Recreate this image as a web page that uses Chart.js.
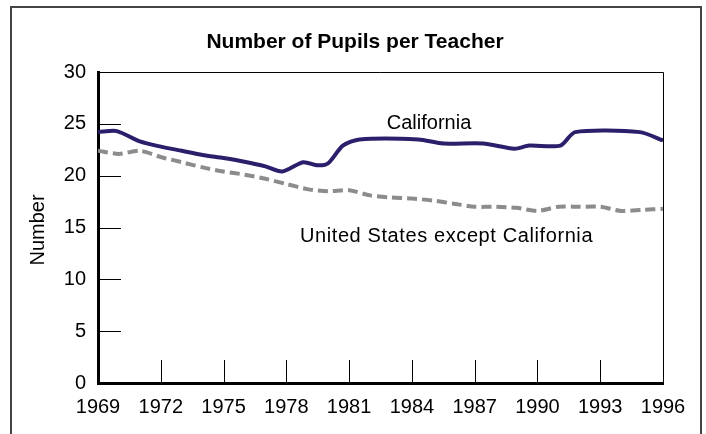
<!DOCTYPE html>
<html>
<head>
<meta charset="utf-8">
<title>Number of Pupils per Teacher</title>
<script src="https://cdn.jsdelivr.net/npm/chart.js@4"></script>
<style>
  html, body { margin:0; padding:0; background:#fff; }
  #wrap { width:706px; height:434px; }
</style>
</head>
<body>
<div id="wrap"><canvas id="chart" width="706" height="434"></canvas></div>
<script>
// ── Data ─────────────────────────────────────────────────────────────────────
const chartTitle = 'Number of Pupils per Teacher';
const yTitle     = 'Number';

// California (year, pupils per teacher)
const caYears  = [1969, 1969.9, 1971, 1972, 1973, 1974, 1975, 1976, 1977, 1977.8, 1978.8, 1979.5, 1980, 1980.7, 1981.5, 1984.3, 1985.5, 1987.4, 1988.9, 1989.6, 1991.1, 1991.8, 1994.9, 1996];
const caValues = [24.2, 24.3, 23.3, 22.8, 22.4, 22.0, 21.7, 21.35, 20.9, 20.4, 21.3, 21.0, 21.2, 22.9, 23.5, 23.5, 23.1, 23.1, 22.6, 22.9, 22.9, 24.2, 24.2, 23.4];

// United States except California
const usYears  = [1969, 1970, 1971, 1972, 1973, 1974, 1975, 1976, 1977, 1978, 1979, 1980, 1981, 1982, 1983, 1984, 1985, 1986, 1987, 1988, 1989, 1990, 1991, 1992, 1993, 1994, 1995, 1996];
const usValues = [22.4, 22.1, 22.4, 21.8, 21.3, 20.8, 20.4, 20.1, 19.7, 19.2, 18.7, 18.5, 18.6, 18.1, 17.9, 17.8, 17.6, 17.3, 17.0, 17.0, 16.9, 16.6, 17.0, 17.0, 17.0, 16.6, 16.7, 16.8];

const xTicks = [1969, 1972, 1975, 1978, 1981, 1984, 1987, 1990, 1993, 1996];
const yTicks = [0, 5, 10, 15, 20, 25, 30];

// in-plot labels (anchor year, value)
const seriesLabels = [
  { text: 'California',                     x: 1982.8, y: 25.0, spacing: '0px' },
  { text: 'United States except California', x: 1978.65, y: 14.1, spacing: '0.6px' },
];

const FONT = '"Liberation Sans", Arial, Helvetica, sans-serif';

// ── Plugin: frame, inward ticks, title, labels ──────────────────────────────
const decor = {
  id: 'decor',
  beforeDatasetsDraw(chart) {
    const { ctx, chartArea: a, scales: { x, y } } = chart;
    ctx.save();
    ctx.strokeStyle = '#000'; ctx.lineWidth = 1;
    // thin top + right border of plot
    ctx.beginPath();
    ctx.moveTo(a.left, a.top + 0.5); ctx.lineTo(a.right + 0.5, a.top + 0.5);
    ctx.lineTo(a.right + 0.5, a.bottom);
    ctx.stroke();
    // inward ticks
    ctx.beginPath();
    yTicks.slice(1, -1).forEach(v => {
      const py = Math.round(y.getPixelForValue(v)) + 0.5;
      ctx.moveTo(a.left, py); ctx.lineTo(a.left + 23, py);
    });
    xTicks.slice(1, -1).forEach(v => {
      const px = Math.round(x.getPixelForValue(v)) + 0.5;
      ctx.moveTo(px, a.bottom); ctx.lineTo(px, a.bottom - 23);
    });
    ctx.stroke();
    ctx.restore();
  },
  afterDraw(chart) {
    const { ctx, scales: { x, y } } = chart;
    ctx.save();
    // outer frame
    ctx.strokeStyle = '#444'; ctx.lineWidth = 2;
    ctx.beginPath();
    ctx.moveTo(11, 440); ctx.lineTo(11, 7); ctx.lineTo(701, 7); ctx.lineTo(701, 440);
    ctx.stroke();
    // title
    ctx.fillStyle = '#000';
    ctx.font = 'bold 21px ' + FONT;
    ctx.textAlign = 'center'; ctx.textBaseline = 'middle';
    ctx.fillText(chartTitle, 355, 42);
    // y axis title
    ctx.font = '20px ' + FONT;
    ctx.save();
    ctx.translate(38, 230); ctx.rotate(-Math.PI / 2);
    ctx.fillText(yTitle, 0, 0);
    ctx.restore();
    // series labels
    ctx.textAlign = 'left';
    seriesLabels.forEach(l => {
      if ('letterSpacing' in ctx) ctx.letterSpacing = l.spacing;
      ctx.fillText(l.text, x.getPixelForValue(l.x), y.getPixelForValue(l.y));
    });
    ctx.restore();
  }
};

// ── Chart ───────────────────────────────────────────────────────────────────
new Chart(document.getElementById('chart'), {
  type: 'line',
  data: {
    datasets: [
      { label: 'California', data: caYears.map((yr, i) => ({ x: yr, y: caValues[i] })),
        borderColor: '#2b1f6c', borderWidth: 4, pointRadius: 0, tension: 0.25, fill: false },
      { label: 'United States except California', data: usYears.map((yr, i) => ({ x: yr, y: usValues[i] })),
        borderColor: '#8c8c8c', borderWidth: 4, borderDash: [10, 5], pointRadius: 0, tension: 0.25, fill: false },
    ]
  },
  options: {
    responsive: false, animation: false, devicePixelRatio: 1,
    layout: { padding: { top: 72, right: 43, left: 0, bottom: 0 } },
    plugins: { legend: { display: false }, title: { display: false }, tooltip: { enabled: false } },
    scales: {
      x: {
        type: 'linear', min: 1969, max: 1996,
        afterBuildTicks: s => { s.ticks = xTicks.map(v => ({ value: v })); },
        afterFit: s => { s.height = 51; },
        grid: { display: false, drawTicks: false },
        border: { display: true, color: '#000', width: 3 },
        ticks: { color: '#000', padding: 12, maxRotation: 0, autoSkip: false,
                 font: { family: FONT, size: 20 }, callback: v => String(v) }
      },
      y: {
        min: 0, max: 30,
        afterBuildTicks: s => { s.ticks = yTicks.map(v => ({ value: v })); },
        afterFit: s => { s.width = 98; },
        grid: { display: false, drawTicks: false },
        border: { display: true, color: '#000', width: 3 },
        ticks: { color: '#000', padding: 12, font: { family: FONT, size: 20 } }
      }
    }
  },
  plugins: [decor]
});
</script>
</body>
</html>
